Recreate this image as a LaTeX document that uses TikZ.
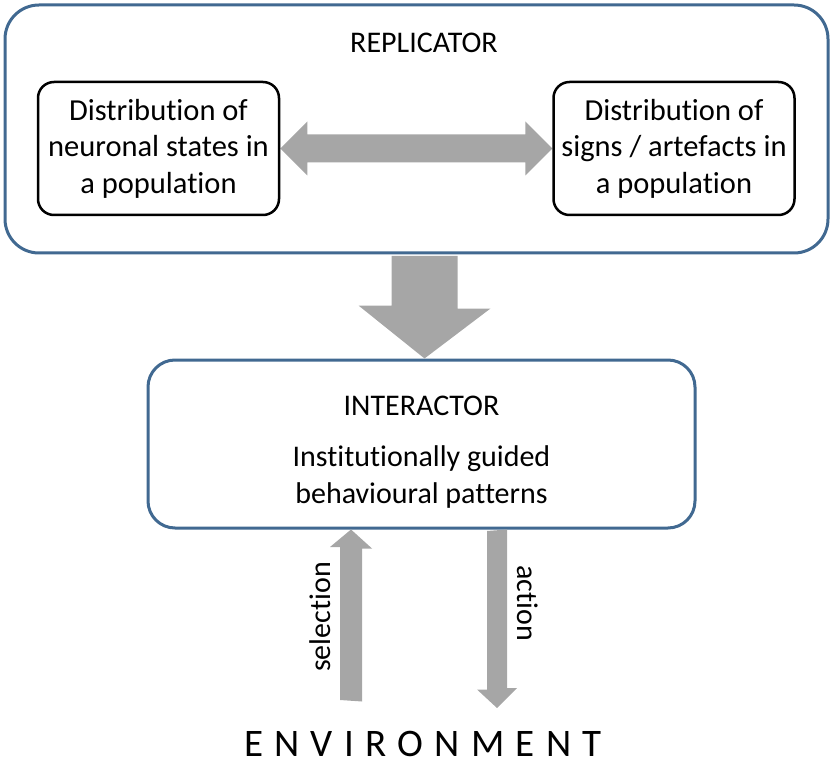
\documentclass[tikz,border=0pt]{standalone}
\usepackage{fontspec}
\setmainfont{Carlito}[Ligatures=NoCommon]
\usetikzlibrary{calc}
\pgfdeclarelayer{background}
\pgfsetlayers{background,main}
\definecolor{frameblue}{RGB}{65,105,145}
\definecolor{blockgray}{RGB}{166,166,166}
\begin{document}
\begin{tikzpicture}[x=1pt,y=-1pt,
  txt/.style={font=\fontsize{30}{37.5}\selectfont, align=center, inner sep=0pt},
  outerbox/.style={draw=frameblue, line width=3pt, rounded corners=34pt, fill=white, inner sep=0pt},
  innerbox/.style={draw=black, line width=2.5pt, rounded corners=16pt, fill=white, inner sep=0pt,
    minimum width=241pt, minimum height=133pt, txt, font=\fontsize{30.5}{36.5}\selectfont},
  blockarrow/.style={fill=blockgray, draw=none}]
\useasboundingbox (0,0) rectangle (831,765);

% inner distribution boxes and texts
\node[innerbox] (neur) at (158.5,148.5) {Distribution of\\neuronal states in\\a population};
\node[innerbox] (signs) at (674,148.5) {Distribution of\\signs / artefacts in\\a population};
\node[txt] (reptitle) at (424,43) {REPLICATOR};
\node[txt] (intertitle) at (421.5,406) {INTERACTOR};
\node[txt] (pattern) at (421.5,477) {Institutionally guided\\behavioural patterns};
\node[inner sep=0pt, font=\fontsize{39}{46}\selectfont\addfontfeature{LetterSpace=29}] (env) at (423,743.5) {ENVIRONMENT};

% anchors for the block arrows
\coordinate (downx) at (424.5,0);
\coordinate (selbase) at (351,700);
\coordinate (acttip) at (497,708);

\begin{pgfonlayer}{background}
% frames
\node[outerbox, minimum width=823pt, minimum height=248pt] (rep) at (416.5,129) {};
\node[outerbox, rounded corners=27pt, minimum width=547pt, minimum height=168pt] (inter) at (421.5,444) {};
% two-way arrow between the distributions
\fill[blockarrow] (neur.east) -- ++(27,-27) -- ++(0,13)
  -- ($(signs.west)+(-27,-14)$) -- ++(0,-13) -- (signs.west) -- ++(-27,27) -- ++(0,-13)
  -- ($(neur.east)+(27,14)$) -- ++(0,13) -- cycle;
% replicator to interactor
\fill[blockarrow] (downx |- rep.south) ++(-33,1.5) -- ++(66,0) -- ++(0,52.5) -- ++(33,0)
  -- (downx |- inter.north) -- ++(-66,-53) -- ++(33,0) -- cycle;
% selection
\fill[blockarrow] (selbase) ++(-11,0) -- ++(0,-153) -- ++(-10,0) -- (selbase |- inter.south)
  -- ++(21,19) -- ++(-10,0) -- ++(0,153) -- cycle;
% action
\fill[blockarrow] (acttip |- inter.south) ++(-10,1.5) -- ++(0,158.5) -- ++(-10,0) -- (acttip)
  -- ++(20,-20) -- ++(-10,0) -- ++(0,-158.5) -- cycle;
\end{pgfonlayer}

\node[txt, rotate=90] (sel) at ($(selbase)+(-31,-83)$) {selection};
\node[txt, rotate=-90] (act) at ($(acttip)+(31,-105)$) {action};
\end{tikzpicture}
\end{document}
